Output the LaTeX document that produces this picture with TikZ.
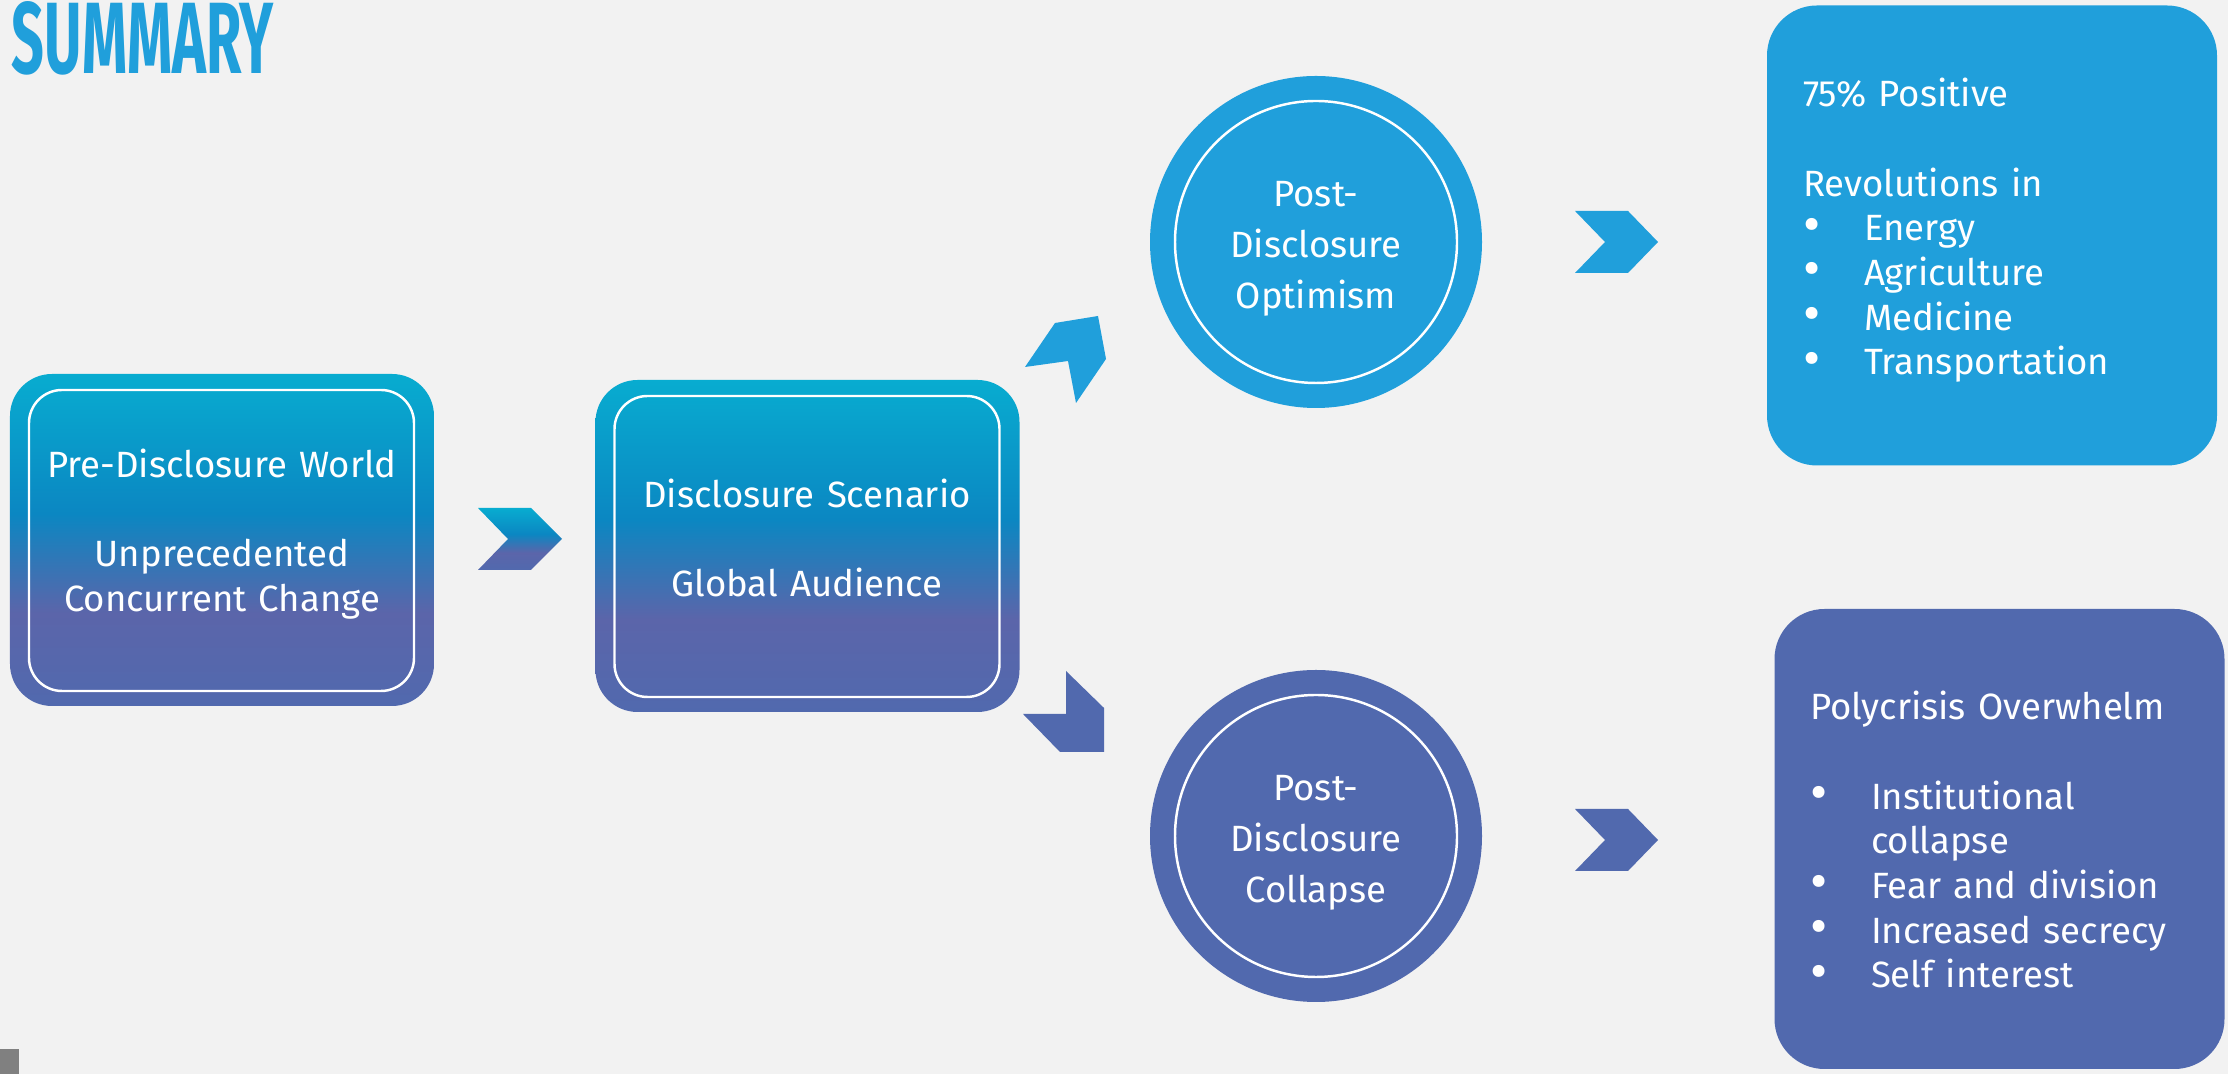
\documentclass[tikz,border=0pt]{standalone}
\usepackage{tikz}
\usetikzlibrary{calc}
\usepackage{graphicx}
\usepackage{fontspec}
\setmainfont{Fira Sans}
\definecolor{bgcol}{HTML}{F2F2F2}
\definecolor{skyblue}{HTML}{209FDB}
\definecolor{slateblue}{HTML}{5169AE}
\definecolor{gcyan}{HTML}{08ACD0}
\definecolor{gblue}{HTML}{0B87C2}
\definecolor{gpurple}{HTML}{5B65AA}
\pgfdeclareverticalshading{boxshade}{100bp}{color(0bp)=(slateblue); color(25bp)=(slateblue); color(39bp)=(gpurple); color(54bp)=(gblue); color(75bp)=(gcyan); color(100bp)=(gcyan)}
\newcommand{\itm}{\makebox[0.61cm][l]{\raisebox{-0.4pt}{\scalebox{1.45}{\textbullet}}}}

\begin{document}
\begin{tikzpicture}[x=1cm,y=1cm]
		\tikzstyle{every node}=[inner sep=0pt, outer sep=0pt]
		\tikzstyle{outerbox}=[shade, shading=boxshade, rounded corners=0.42cm,
		minimum width=4.24cm, minimum height=3.32cm]
		\tikzstyle{innerbox}=[draw=white, line width=0.7pt, rounded corners=0.33cm,
		minimum width=3.85cm, minimum height=3.01cm]
		\tikzstyle{ring}=[circle, minimum size=3.32cm]
		\tikzstyle{innerring}=[circle, draw=white, line width=0.7pt, minimum size=2.82cm]
		\tikzstyle{rbox}=[rounded corners=0.5cm, minimum width=4.5cm, minimum height=4.6cm]
		\tikzstyle{btxt}=[text=white, anchor=base, align=center, text width=4.2cm,
		font=\fontsize{10.4pt}{12.65pt}\selectfont]
		\tikzstyle{ctxt}=[text=white, anchor=base, align=center, text width=3cm,
		font=\fontsize{10.4pt}{14.4pt}\selectfont]
		\tikzstyle{ltxt}=[text=white, anchor=base west, align=left, text width=4.3cm,
		font=\fontsize{10.4pt}{12.7pt}\selectfont]
		\fill[bgcol] (0,0) rectangle (22.28,10.74);
		\useasboundingbox (0,0) rectangle (22.28,10.74);
		%-----title
		\node[anchor=south west, text=skyblue] (title) at (0.12,9.99) {\resizebox{2.62cm}{0.72cm}{\bfseries SUMMARY}};
		\fill[gray] (0,0) rectangle (0.19,0.25);
		%-----boxes
		\node[outerbox] (pre) at (2.22,5.34) {};
		\node[innerbox] (prein) at (2.215,5.335) {};
		\node[btxt] (pretxt) at (2.22,5.96) {Pre-Disclosure World\\[12.65pt]Unprecedented\\Concurrent Change};
		\node[outerbox] (scen) at (8.075,5.28) {};
		\node[innerbox] (scenin) at (8.07,5.275) {};
		\node[btxt] (scentxt) at (8.07,5.66) {Disclosure Scenario\\[12.65pt]Global Audience};
		%-----circles
		\node[ring, fill=skyblue] (opt) at (13.16,8.32) {};
		\node[innerring] (optin) at (opt) {};
		\node[ctxt] (opttxt) at (13.16,8.67) {Post-\\Disclosure\\Optimism};
		\node[ring, fill=slateblue] (col) at (13.16,2.38) {};
		\node[innerring] (colin) at (col) {};
		\node[ctxt] (coltxt) at (13.16,2.73) {Post-\\Disclosure\\Collapse};
		%-----outcomes
		\node[rbox, fill=skyblue] (pos) at (19.92,8.385) {};
		\node[ltxt] (postxt) at (18.03,9.67) {75\% Positive\\[12.7pt]Revolutions in\\\itm Energy\\\itm Agriculture\\\itm Medicine\\\itm Transportation};
		\node[rbox, fill=slateblue] (crisis) at (19.995,2.35) {};
		\node[ltxt] (crisistxt) at (18.10,3.54) {Polycrisis Overwhelm\\[12.7pt]\itm Institutional\\\hspace*{0.61cm}collapse\\\itm Fear and division\\\itm Increased secrecy\\\itm Self interest};
		%-----chevrons
		\shade[shading=boxshade] (4.78,5.66) -- (5.31,5.66) -- (5.62,5.35) -- (5.31,5.04) -- (4.78,5.04) -- (5.08,5.35) -- cycle;
		\fill[skyblue] (10.25,7.07) -- (10.55,7.51) -- (10.98,7.58) -- (11.06,7.15) -- (10.76,6.71) -- (10.68,7.13) -- cycle;
		\fill[slateblue] (10.66,4.03) -- (11.04,3.66) -- (11.04,3.22) -- (10.60,3.22) -- (10.23,3.60) -- (10.66,3.60) -- cycle;
		\foreach \yy/\cc in {8.32/skyblue,2.34/slateblue}
		\fill[\cc] (15.75,\yy+0.31) -- (16.28,\yy+0.31) -- (16.58,\yy) -- (16.28,\yy-0.31) -- (15.75,\yy-0.31) -- (16.05,\yy) -- cycle;
\end{tikzpicture}
\end{document}
